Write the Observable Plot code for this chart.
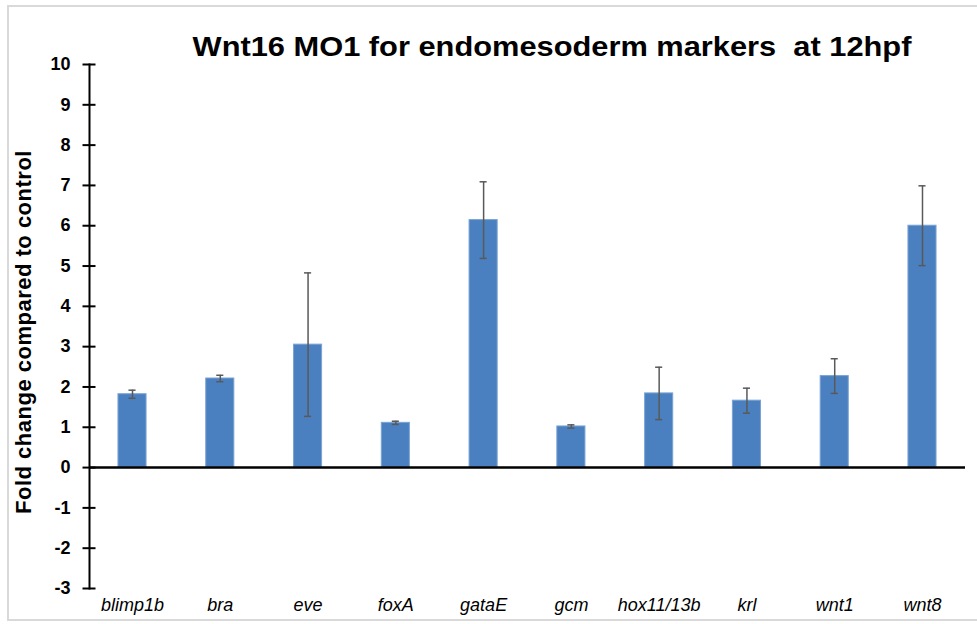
<!DOCTYPE html>
<html><head><meta charset="utf-8">
<script src="https://cdn.jsdelivr.net/npm/d3@7"></script>
<script src="https://cdn.jsdelivr.net/npm/@observablehq/plot@0.6"></script>
<style>
body{margin:0;background:#fff;}
#wrap{position:relative;width:977px;height:624px;overflow:hidden;background:#fff;}
#border{position:absolute;left:7px;top:5px;width:990px;height:616px;border:2px solid #d9d9d9;box-sizing:border-box;}
#title{position:absolute;left:552px;top:33px;transform:translateX(-50%) scaleX(1.1);font-family:"Liberation Sans",Arial,sans-serif;font-weight:bold;font-size:28px;white-space:pre;color:#000;line-height:1;}
#ylabel{position:absolute;left:24px;top:332px;transform:translate(-50%,-50%) rotate(-90deg);font-family:"Liberation Sans",Arial,sans-serif;font-weight:bold;font-size:22px;letter-spacing:0.5px;white-space:nowrap;color:#000;line-height:1;}
#chart{position:absolute;left:0;top:0;}
</style>
</head><body>
<div id="wrap">
  <div id="border"></div>
  <div id="chart"></div>
  <div id="title">Wnt16 MO1 for endomesoderm markers  at 12hpf</div>
  <div id="ylabel">Fold change compared to control</div>
</div>
<script>
const genes = ["blimp1b","bra","eve","foxA","gataE","gcm","hox11/13b","krl","wnt1","wnt8"];
const means = [1.82, 2.21, 3.05, 1.11, 6.14, 1.02, 1.84, 1.66, 2.27, 6.00];
const errors = [0.10, 0.08, 1.78, 0.04, 0.95, 0.04, 0.65, 0.31, 0.43, 0.99];
const yTicks = [-3,-2,-1,0,1,2,3,4,5,6,7,8,9,10];

const data = genes.map((g,i)=>({gene:g, value:means[i], lo:means[i]-errors[i], hi:means[i]+errors[i]}));
const errColor = "#595959";

const chart = Plot.plot({
  width: 977, height: 624,
  marginLeft: 89, marginRight: 12, marginTop: 64, marginBottom: 36,
  style: {background: "transparent", fontFamily: "'Liberation Sans', Arial, sans-serif", color: "#000"},
  x: {domain: genes, paddingInner: 0.68, paddingOuter: 0.33, align: 0.5, round: false},
  y: {domain: [-3, 10]},
  marks: [
    Plot.barY(data, {x: "gene", y: "value", fill: "#4a80c0", stroke: "#7aa3d4", strokeWidth: 1}),
    Plot.ruleY([0], {stroke: "#000", strokeWidth: 2.5}),
    Plot.ruleX(data, {x: "gene", y1: "lo", y2: "hi", stroke: errColor, strokeWidth: 1.5}),
    Plot.tickY(data, {x: "gene", y: "lo", insetLeft: 10.5, insetRight: 10.5, stroke: errColor, strokeWidth: 1.5}),
    Plot.tickY(data, {x: "gene", y: "hi", insetLeft: 10.5, insetRight: 10.5, stroke: errColor, strokeWidth: 1.5}),
    Plot.axisX({tickSize: 0, tickPadding: 10, fontStyle: "italic", fontSize: 18, label: null}),
    Plot.axisY({ticks: yTicks, tickSize: 13, dx: 6.5, strokeWidth: 2, stroke: "#000", tickFormat: () => "", label: null}),
    Plot.axisY({ticks: yTicks, tickSize: 0, tickPadding: 19, fontWeight: "bold", fontSize: 18, tickFormat: d => String(d), label: null}),
    Plot.frame({anchor: "left", stroke: "#000", strokeWidth: 2})
  ]
});
document.getElementById("chart").appendChild(chart);
</script>
</body></html>
